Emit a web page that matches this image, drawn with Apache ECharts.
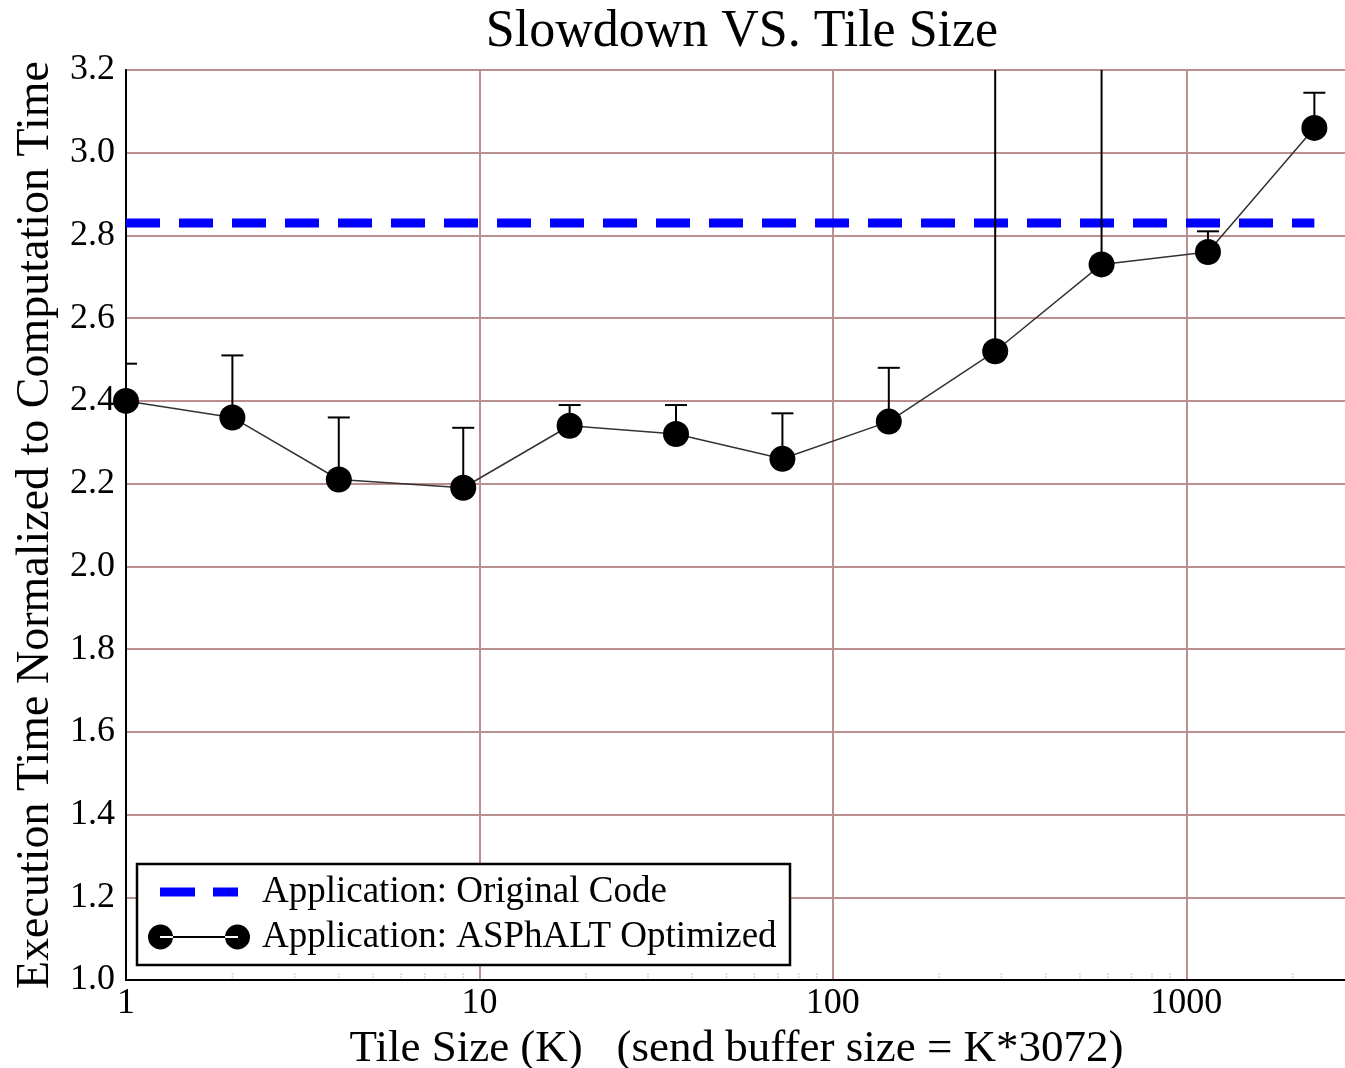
<!DOCTYPE html>
<html>
<head>
<meta charset="utf-8">
<script src="https://cdn.jsdelivr.net/npm/echarts@6/dist/echarts.min.js"></script>
<style>html,body{margin:0;padding:0;background:#fff;}#chart{width:1345px;height:1068px;}</style>
</head>
<body>
<div id="chart"></div>
<script>
// ---- data ----
var tileSizes = [1, 2, 4, 9, 18, 36, 72, 144, 288, 576, 1152, 2304];
var optimized = [2.40, 2.36, 2.21, 2.19, 2.34, 2.32, 2.26, 2.35, 2.52, 2.73, 2.76, 3.06];
var optimizedErrTop = [2.49, 2.51, 2.36, 2.335, 2.39, 2.39, 2.37, 2.48, 3.40, 3.40, 2.81, 3.145];
var originalXs = [1, 2304];
var originalValue = [2.83, 2.83];
var xTickLabels = ['1', '10', '100', '1000'];
var minorTickValues = [2,3,4,5,6,7,8,9,20,30,40,50,60,70,80,90,200,300,400,500,600,700,800,900,2000];
var seriesNames = ['Application: Original Code', 'Application: ASPhALT Optimized'];

var FONT = 'Liberation Serif';
var chart = echarts.init(document.getElementById('chart'));

var optData = tileSizes.map(function (x, i) { return [x, optimized[i]]; });
var errData = tileSizes.map(function (x, i) { return [x, optimized[i], optimizedErrTop[i]]; });
var origData = originalXs.map(function (x, i) { return [x, originalValue[i]]; });
var minorData = minorTickValues.map(function (x) { return [x, 1.0]; });

var option = {
  backgroundColor: '#fff',
  animation: false,
  title: {
    text: 'Slowdown VS. Tile Size',
    left: 742, top: 6, padding: 0, textAlign: 'center',
    textStyle: { fontFamily: FONT, fontSize: 52, fontWeight: 'normal', color: '#000' }
  },
  grid: {
    left: 126, top: 70, right: -2, bottom: 88,
    outerBoundsMode: 'none', containLabel: false,
    show: true, borderColor: '#000', borderWidth: 2, backgroundColor: 'transparent'
  },
  xAxis: {
    type: 'log', logBase: 10, min: 1, max: 2850,
    name: 'Tile Size (K)   (send buffer size = K*3072)',
    nameLocation: 'middle', nameGap: 40,
    nameTextStyle: { fontFamily: FONT, fontSize: 45, color: '#000' },
    axisLine: { show: true, onZero: false, lineStyle: { color: '#000', width: 2 } },
    axisTick: { show: false },
    axisLabel: {
      fontFamily: FONT, fontSize: 36, color: '#000', margin: 6,
      showMaxLabel: false,
      formatter: function (v) {
        var e = Math.round(Math.log10(v));
        if (Math.abs(Math.log10(v) - e) > 1e-6) return '';
        return xTickLabels[e] !== undefined ? xTickLabels[e] : '';
      }
    },
    splitLine: { show: true, lineStyle: { color: '#bc8f8f', width: 2 } }
  },
  yAxis: {
    type: 'value', min: 1.0, max: 3.2, interval: 0.2,
    name: 'Execution Time Normalized to Computation Time',
    nameLocation: 'middle', nameGap: 64, nameRotate: 90,
    nameTextStyle: { fontFamily: FONT, fontSize: 46, color: '#000' },
    axisLine: { show: true, lineStyle: { color: '#000', width: 2 } },
    axisTick: { show: false },
    axisLabel: {
      fontFamily: FONT, fontSize: 36, color: '#000', margin: 11,
      formatter: function (v) { return v.toFixed(1); }
    },
    splitLine: { show: true, lineStyle: { color: '#bc8f8f', width: 2 } }
  },
  legend: [
    {
      data: [{ name: seriesNames[0], icon: 'path://M0,0L35,0L35,9L0,9Z M53,0L78,0L78,9L53,9Z' }],
      left: 160, top: 872, itemWidth: 78, itemHeight: 9, padding: 0,
      itemStyle: { borderWidth: 0 },
      textStyle: { fontFamily: FONT, fontSize: 37, color: '#000', lineHeight: 40, padding: [0, 0, 0, 19] }
    },
    {
      data: [{ name: seriesNames[1], icon: 'path://M0,12.5a12.5,12.5 0 1,0 25,0a12.5,12.5 0 1,0 -25,0Z M77,12.5a12.5,12.5 0 1,0 25,0a12.5,12.5 0 1,0 -25,0Z M12,11.5L90,11.5L90,13.5L12,13.5Z' }],
      left: 148, top: 917, itemWidth: 102, itemHeight: 25, padding: 0,
      itemStyle: { borderWidth: 0 },
      textStyle: { fontFamily: FONT, fontSize: 37, color: '#000', lineHeight: 40, padding: [0, 0, 0, 7] }
    }
  ],
  graphic: [
    {
      type: 'rect', z: 3,
      shape: { x: 137, y: 864, width: 653, height: 101 },
      style: { fill: '#fff', stroke: '#000', lineWidth: 2.5 }
    }
  ],
  series: [
    {
      name: seriesNames[0], type: 'line', data: origData,
      symbol: 'none', z: 2,
      color: '#0000ff',
      lineStyle: { color: '#0000ff', width: 9, type: [34, 19] }
    },
    {
      name: seriesNames[1] + ' err', type: 'custom', data: errData, z: 3,
      clip: true,
      renderItem: function (params, api) {
        var p = api.coord([api.value(0), api.value(1)]);
        var t = api.coord([api.value(0), api.value(2)]);
        var cs = params.coordSys;
        var clipTop = Math.max(t[1], cs.y);
        var children = [{
          type: 'line', shape: { x1: p[0], y1: p[1], x2: p[0], y2: clipTop },
          style: { stroke: '#000', lineWidth: 2 }
        }];
        if (t[1] >= cs.y) {
          children.push({
            type: 'line', shape: { x1: p[0] - 11, y1: t[1], x2: p[0] + 11, y2: t[1] },
            style: { stroke: '#000', lineWidth: 2 }
          });
        }
        return { type: 'group', children: children };
      }
    },
    {
      name: seriesNames[1], type: 'line', data: optData, z: 4,
      symbol: 'circle', symbolSize: 26,
      color: '#000',
      itemStyle: { color: '#000' },
      lineStyle: { color: '#333', width: 1.5 }
    },
    {
      name: 'minor ticks', type: 'custom', data: minorData, z: 1, silent: true,
      renderItem: function (params, api) {
        var p = api.coord([api.value(0), api.value(1)]);
        return {
          type: 'line', shape: { x1: p[0], y1: p[1] - 2, x2: p[0], y2: p[1] - 7 },
          style: { stroke: '#c8c8c8', lineWidth: 1.5, lineDash: [1.5, 1.5] }
        };
      }
    }
  ]
};
chart.setOption(option);
</script>
</body>
</html>
